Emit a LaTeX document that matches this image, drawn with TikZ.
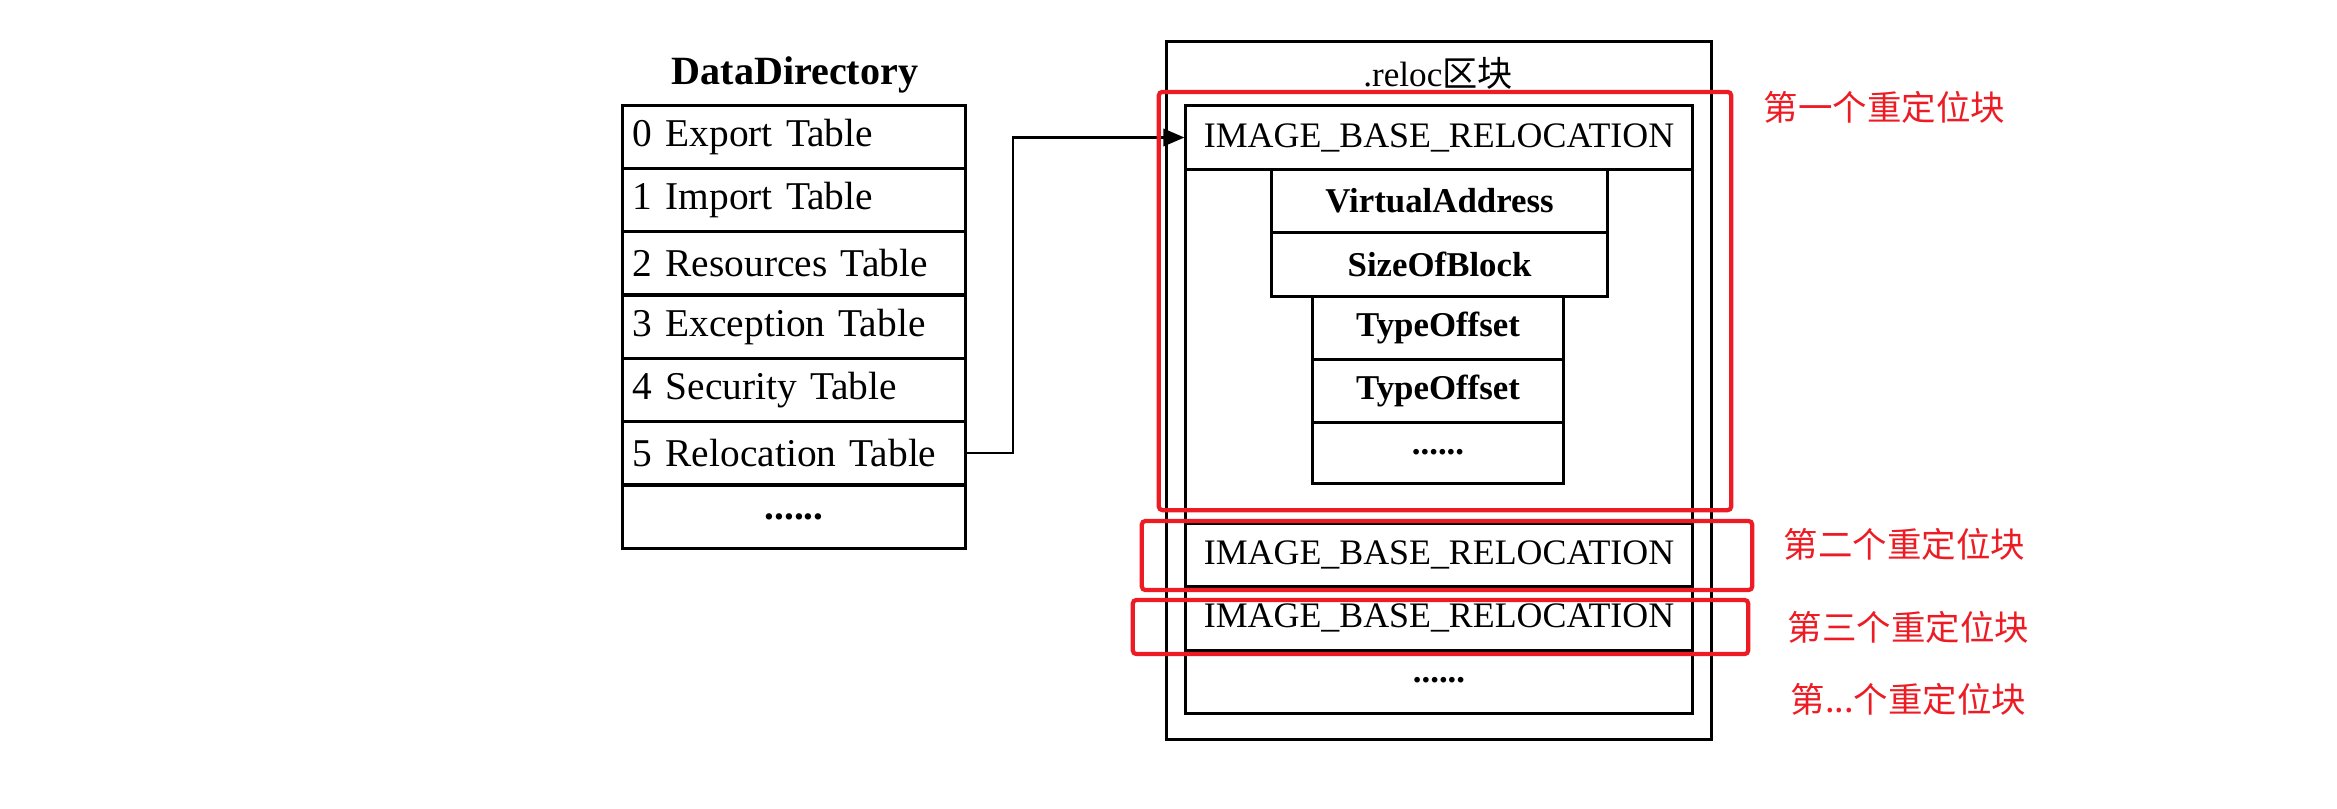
\documentclass[tikz,border=0pt]{standalone}
\usepackage{fontspec}
\setmainfont{Liberation Serif}
\newfontfamily\cjk{Noto Sans CJK SC}
\usetikzlibrary{arrows.meta}
\definecolor{redbox}{RGB}{237,28,36}
\begin{document}
\begin{tikzpicture}[x=0.01cm,y=-0.01cm,
  blk/.style={draw=black,line width=0.85pt,inner sep=0pt,rectangle},
  rowbox/.style={blk,minimum height=0.633cm,text width=3.22cm,inner xsep=0.1cm,align=left,
    font=\fontsize{11.2}{13}\selectfont},
  relbox/.style={blk,minimum width=5.06cm,font=\fontsize{10.2}{12}\selectfont},
  fieldbox/.style={blk,font=\bfseries\fontsize{9.9}{11}\selectfont},
  redrect/.style={draw=redbox,line width=1.2pt,rounded corners=1pt,inner sep=0pt,rectangle},
  redlbl/.style={text=redbox,font=\cjk\fontsize{9.8}{11}\selectfont,inner sep=0pt},
  link/.style={draw=black,line width=0.6pt,-{Triangle[length=6pt,width=5pt]}}]
\useasboundingbox (0,0) rectangle (2337,808);
% left table
\node[font=\bfseries\fontsize{11.4}{14}\selectfont] (title) at (795,75) {DataDirectory};
\node[rowbox] (t0) at (794,136.7) {0 Export Table};
\node[rowbox] (t1) at (794,200) {1 Import Table};
\node[rowbox] (t2) at (794,263.3) {2 Resources Table};
\node[rowbox] (t3) at (794,326.7) {3 Exception Table};
\node[rowbox] (t4) at (794,390) {4 Security Table};
\node[rowbox] (t5) at (794,453.3) {5 Relocation Table};
\node[rowbox,align=center] (t6) at (794,516.7) {\textbf{......}};
% right structure
\node[blk,minimum width=5.44cm,minimum height=6.97cm] (outer) at (1439,390.5) {};
\node[font=\fontsize{10}{12}\selectfont,inner sep=0pt] (reloc) at (1438,73) {.reloc{\cjk 区块}};
\node[blk,minimum width=5.06cm,minimum height=6.07cm] (inner) at (1439,409.5) {};
\node[relbox,minimum height=0.63cm] (ibr1) at (1439,137.5) {IMAGE\_BASE\_RELOCATION};
\node[fieldbox,minimum width=3.35cm,minimum height=0.63cm] (va) at (1439.5,200.5) {VirtualAddress};
\node[fieldbox,minimum width=3.35cm,minimum height=0.64cm] (sob) at (1439.5,264) {SizeOfBlock};
\node[fieldbox,minimum width=2.5cm,minimum height=0.63cm] (to1) at (1438,327.5) {TypeOffset};
\node[fieldbox,minimum width=2.5cm,minimum height=0.63cm] (to2) at (1438,390.5) {TypeOffset};
\node[fieldbox,minimum width=2.5cm,minimum height=0.61cm] (tod) at (1438,452.5) {......};
\node[relbox,minimum height=0.62cm] (ibr2) at (1439,555) {IMAGE\_BASE\_RELOCATION};
\node[relbox,minimum height=0.64cm] (ibr3) at (1439,618) {IMAGE\_BASE\_RELOCATION};
\node[font=\bfseries\fontsize{9.9}{11}\selectfont,inner sep=0pt] (dots) at (1439,680) {......};
% connector
\coordinate (bend) at (1013,453.3);
\draw[link] (t5.east) -- (bend) |- (ibr1.west);
% red highlight boxes
\node[redrect,minimum width=5.72cm,minimum height=4.18cm] (r1) at (1445,301) {};
\node[redrect,minimum width=6.10cm,minimum height=0.69cm] (r2) at (1447,555.5) {};
\node[redrect,minimum width=6.15cm,minimum height=0.54cm] (r3) at (1440.5,627) {};
\node[redlbl,anchor=west] (l1) at (1763,107) {第一个重定位块};
\node[redlbl,anchor=west] (l2) at (1783,544) {第二个重定位块};
\node[redlbl,anchor=west] (l3) at (1787,627) {第三个重定位块};
\node[redlbl,anchor=west] (l4) at (1790,699) {第...个重定位块};
\end{tikzpicture}
\end{document}
